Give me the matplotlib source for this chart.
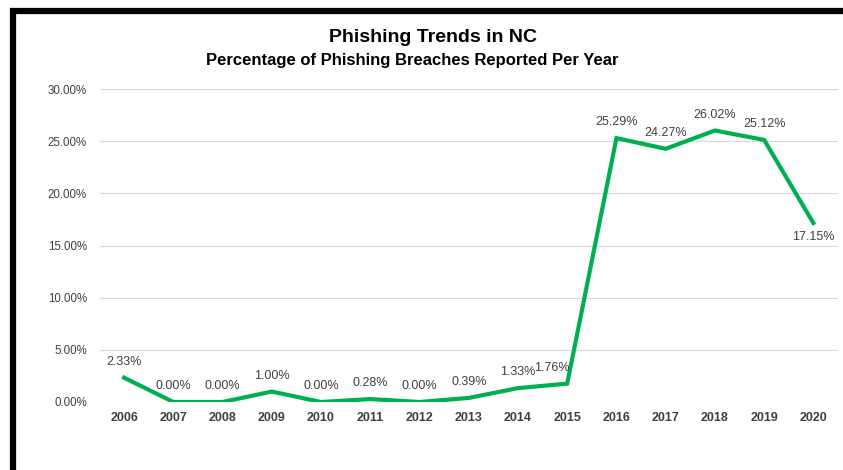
import matplotlib.pyplot as plt
from matplotlib.patches import Rectangle
from matplotlib.ticker import FuncFormatter

plt.rcParams['font.family'] = ['Liberation Sans', 'DejaVu Sans']

years = ['2006', '2007', '2008', '2009', '2010', '2011', '2012', '2013',
         '2014', '2015', '2016', '2017', '2018', '2019', '2020']
pct = [2.33, 0.00, 0.00, 1.00, 0.00, 0.28, 0.00, 0.39,
       1.33, 1.76, 25.29, 24.27, 26.02, 25.12, 17.15]

green = '#00b050'
grey = '#404040'

fig = plt.figure(figsize=(8.43, 4.70), dpi=100)
W, H = 843, 470

# black frame on the left and top edges
fig.patches.append(Rectangle((13 / W, -0.1), 2.0, (H - 11) / H + 0.1,
                             transform=fig.transFigure, fill=False,
                             edgecolor='black', linewidth=4.5))

ax = fig.add_axes([99.5 / W, 68 / H, (838 - 99.5) / W, (402 - 89) / H])
x = list(range(len(years)))
ax.plot(x, pct, color=green, linewidth=3, solid_joinstyle='miter')

ax.set_xlim(-0.5, len(years) - 0.5)
ax.set_ylim(0, 30)
ax.set_yticks([0, 5, 10, 15, 20, 25, 30])
ax.yaxis.set_major_formatter(FuncFormatter(lambda v, p: f'{v:.2f}%'))
ax.set_xticks(x)
ax.set_xticklabels(years, fontweight='bold', fontsize=9, color=grey)
ax.tick_params(axis='y', labelsize=8.3, labelcolor=grey, length=0, pad=9)
ax.tick_params(axis='x', length=0, pad=7)
ax.grid(axis='y', color='#d9d9d9', linewidth=0.8)
ax.set_axisbelow(True)
for s in ax.spines.values():
    s.set_visible(False)

for i, v in enumerate(pct):
    dx, dy, va = 0, 7, 'bottom'
    if years[i] == '2015':
        dx = -11
    if years[i] == '2020':
        dy, va = -6, 'top'
    ax.annotate(f'{v:.2f}%', (i, v), xytext=(dx, dy), textcoords='offset points',
                ha='center', va=va, fontsize=9, color=grey)

fig.text(433 / W, 1 - 37 / H, 'Phishing Trends in NC', ha='center', va='center',
         fontsize=14, fontweight='bold', color='black')
fig.text(412 / W, 1 - 61 / H, 'Percentage of Phishing Breaches Reported Per Year',
         ha='center', va='center', fontsize=12, fontweight='bold', color='black')

fig.savefig('out.png', dpi=100)
